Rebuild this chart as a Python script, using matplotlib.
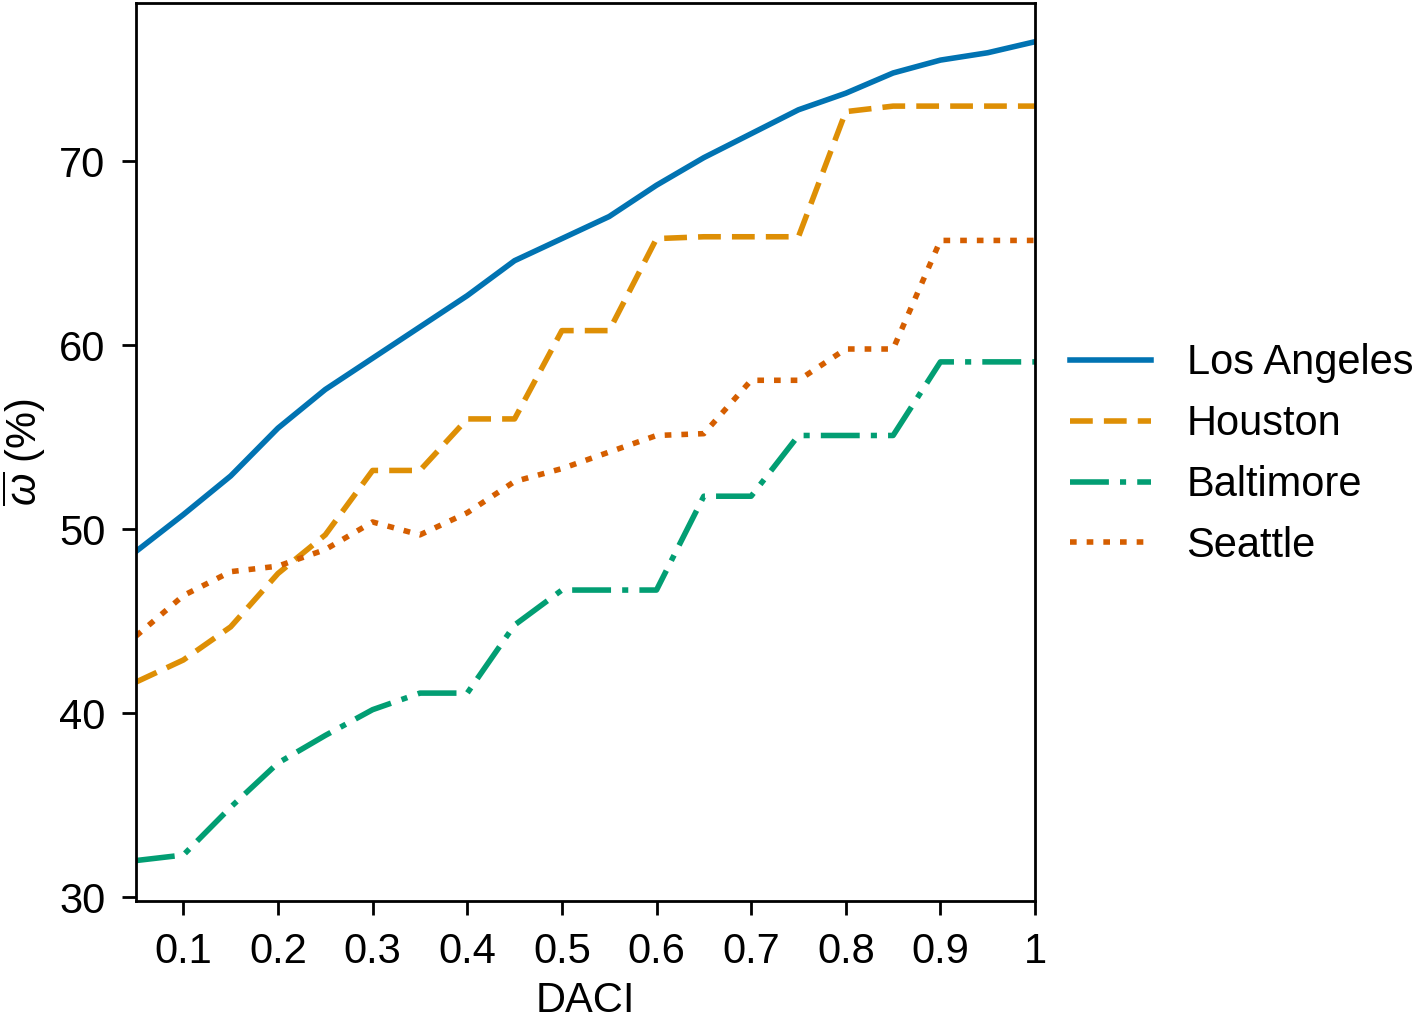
import matplotlib
matplotlib.use('Agg')
import matplotlib.pyplot as plt
import numpy as np

plt.rcParams['font.family'] = ['Liberation Sans', 'DejaVu Sans']
plt.rcParams['mathtext.fontset'] = 'custom'
plt.rcParams['mathtext.it'] = 'Liberation Sans:italic'
plt.rcParams['font.size'] = 15

daci = [0.05, 0.1, 0.15, 0.2, 0.25, 0.3, 0.35, 0.4, 0.45, 0.5,
        0.55, 0.6, 0.65, 0.7, 0.75, 0.8, 0.85, 0.9, 0.95, 1.0]
los_angeles = [48.8, 50.8, 52.9, 55.5, 57.6, 59.3, 61.0, 62.7, 64.6, 65.8,
               67.0, 68.7, 70.2, 71.5, 72.8, 73.7, 74.8, 75.5, 75.9, 76.5]
houston = [41.7, 42.9, 44.7, 47.6, 49.7, 53.2, 53.2, 56.0, 56.0, 60.8,
           60.8, 65.8, 65.9, 65.9, 65.9, 72.7, 73.0, 73.0, 73.0, 73.0]
baltimore = [32.0, 32.3, 34.9, 37.3, 38.8, 40.2, 41.1, 41.1, 44.8, 46.7,
             46.7, 46.7, 51.8, 51.8, 55.1, 55.1, 55.1, 59.1, 59.1, 59.1]
seattle = [44.2, 46.4, 47.7, 48.0, 48.9, 50.4, 49.7, 50.9, 52.6, 53.3,
           54.2, 55.1, 55.2, 58.1, 58.1, 59.8, 59.8, 65.7, 65.7, 65.7]
xticks = [0.1, 0.2, 0.3, 0.4, 0.5, 0.6, 0.7, 0.8, 0.9, 1.0]
xticklabels = ['0.1', '0.2', '0.3', '0.4', '0.5', '0.6', '0.7', '0.8', '0.9', '1']
yticks = [30, 40, 50, 60, 70]

fig = plt.figure(figsize=(7.07, 5.105), dpi=200)
ax = fig.add_axes([0.0962, 0.1175, 0.6358, 0.8795])

lw = 2.0
ax.plot(daci, los_angeles, color='#0173b2', lw=lw, label='Los Angeles')
ax.plot(daci, houston, color='#de8f05', lw=lw, ls=(0, (4.1, 2.0)), label='Houston')
ax.plot(daci, baltimore, color='#029e73', lw=lw, ls=(0, (7.0, 2.0, 1.1, 2.0)), label='Baltimore')
ax.plot(daci, seattle, color='#d55e00', lw=lw, ls=(0, (1.2, 1.8)), label='Seattle')

ax.set_xlim(0.05, 1.0)
ax.set_ylim(29.8, 78.6)
ax.set_xticks(xticks)
ax.set_xticklabels(xticklabels)
ax.set_yticks(yticks)
ax.tick_params(direction='out', length=5, width=1.0, pad=6)
for s in ax.spines.values():
    s.set_linewidth(1.0)
ax.set_xlabel('DACI', labelpad=3.5)
ax.set_ylabel(r'$\overline{\omega}$ (%)', labelpad=4)

ax.legend(loc='center left', bbox_to_anchor=(0.997, 0.497), frameon=False,
          handlelength=1.95, handletextpad=0.85, labelspacing=0.5)

fig.savefig('out.png', dpi=200)
